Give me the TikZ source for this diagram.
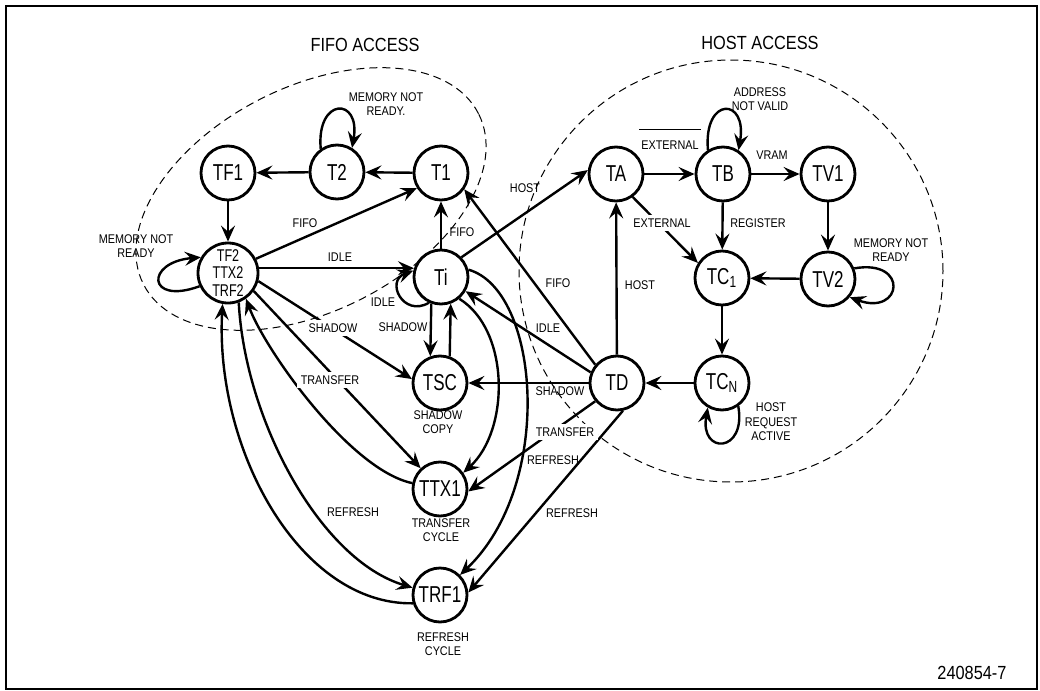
\documentclass[tikz,border=0pt]{standalone}
\usepackage{fontspec}
\setmainfont{Liberation Sans}[FakeStretch=0.86]
\newfontfamily\statefont{Liberation Sans}[FakeStretch=0.74]
\usetikzlibrary{arrows.meta}
\begin{document}
\begin{tikzpicture}[x=0.5pt,y=-0.5pt,
  st/.style={circle,draw,line width=1.4pt,minimum size=27pt,inner sep=0pt,font=\statefont\fontsize{11.5}{12}\selectfont},
  lab/.style={font=\fontsize{6.3}{7.2}\selectfont,inner sep=1pt,align=center},
  labw/.style={lab,fill=white,inner sep=2pt},
  conn/.style={line width=1.2pt,-{Stealth[length=8pt,width=7pt,inset=3pt]}},
  zone/.style={dash pattern=on 4pt off 2.5pt,line width=0.5pt},
  ttl/.style={font=\fontsize{9.5}{10}\selectfont}]
\useasboundingbox (0,0) rectangle (1040,691);
\draw[line width=0.8pt] (6,6) rectangle (1037,689);

% zones
\draw[zone,rotate around={27:(311,199)}] (311,199) ellipse [x radius=94pt, y radius=56pt];
\draw[zone] (731,271) ellipse [x radius=106pt, y radius=105.5pt];
\node[ttl] (fifot) at (365,45) {FIFO ACCESS};
\node[ttl] (hostt) at (760,43) {HOST ACCESS};

% states
\node[st] (TF1) at (228,173) {TF1};
\node[st] (T2) at (337,172) {T2};
\node[st] (T1) at (441,173) {T1};
\node[st,minimum size=30pt,font=\statefont\fontsize{8.5}{8.8}\selectfont,align=center] (TF2) at (228,273) {TF2\\TTX2\\TRF2};
\node[st] (Ti) at (441,277) {Ti};
\node[st] (TSC) at (440,383) {TSC};
\node[st] (TTX1) at (440,489) {TTX1};
\node[st] (TRF1) at (440,595) {TRF1};
\node[st] (TA) at (616,174) {TA};
\node[st] (TB) at (723,174) {TB};
\node[st] (TV1) at (828,174) {TV1};
\node[st] (TC1) at (722,278) {TC\textsubscript{1}};
\node[st] (TV2) at (828,279) {TV2};
\node[st] (TCN) at (722,383) {TC\textsubscript{N}};
\node[st] (TD) at (617,383) {TD};

% FIFO side
\draw[conn] (T1) -- (T2);
\draw[conn] (T2) -- (TF1);
\draw[conn] (TF1) -- (TF2);
\draw[conn] (T2.125) .. controls +(95:26pt) and +(80:26pt) .. (T2.58);
\draw[conn] (TF2.205) .. controls +(200:28pt) and +(185:28pt) .. (TF2.150);
\draw[conn] (TF2.27) -- (T1.212);
\draw[conn] (Ti.162 -| TF2.east) -- (Ti.162);
\draw[conn] (Ti) -- (T1);
\draw[conn] (Ti.44) -- (TA.172);
\draw[conn] (Ti.-110) -- (TSC.110);
\draw[conn] (TSC.70) -- (Ti.-70);
\draw[conn] (Ti.-115) .. controls +(-150:15pt) and +(200:15pt) .. (Ti.167);
\draw[conn] (TF2.-15) -- (TSC.172);
\draw[conn] (TF2.-35) -- (TTX1.133);
\draw[conn] (TTX1.168) .. controls (350,470) and (265,350) .. (TF2.-55);
\draw[conn] (TF2.-70) .. controls (245,420) and (320,560) .. (TRF1.165);
\draw[conn] (TRF1.197) .. controls (300,605) and (215,450) .. (TF2.-100);
\draw[conn] (Ti.-50) .. controls (510,330) and (510,430) .. (TTX1.35);
\draw[conn] (Ti.15) .. controls (540,290) and (555,485) .. (TRF1.45);

% TD
\draw[conn] (TD.140) -- (T1.-35);
\draw[conn] (TD) -- (TA);
\draw[conn] (TD.158) -- (Ti.-30);
\draw[conn] (TD) -- (TSC);
\draw[conn] (TD.220) -- (TTX1.-5);
\draw[conn] (TD.-78) -- (TRF1.5);

% HOST side
\draw[conn] (TA) -- (TB);
\draw[conn] (TB) -- (TV1);
\draw[conn] (TB) -- (TC1);
\draw[conn] (TA.-54) -- (TC1.148);
\draw[conn] (TV1) -- (TV2);
\draw[conn] (TV2) -- (TC1);
\draw[conn] (TC1) -- (TCN);
\draw[conn] (TCN) -- (TD);
\draw[conn] (TB.122) .. controls +(95:27pt) and +(80:27pt) .. (TB.57);
\draw[conn] (TV2.22) .. controls +(10:28pt) and +(-20:28pt) .. (TV2.-40);
\draw[conn] (TCN.-55) .. controls +(-80:24pt) and +(-100:24pt) .. (TCN.-120);

% labels
\node[lab] (l1) at (386,104) {MEMORY NOT\\READY.};
\node[lab] (l2) at (136,246) {MEMORY NOT\\READY};
\node[lab] (l3) at (305,223) {FIFO};
\node[lab] (l4) at (340,257) {IDLE};
\node[lab] (l5) at (462,232) {FIFO};
\node[lab] (l6) at (525,188) {HOST};
\node[lab] (l7) at (383,302) {IDLE};
\node[lab] (l8) at (403,327) {SHADOW};
\node[labw] (l9) at (333,328) {SHADOW};
\node[labw] (l10) at (330,380) {TRANSFER};
\node[lab] (l11) at (353,512) {REFRESH};
\node[lab] (l12) at (438,422) {SHADOW\\COPY};
\node[lab] (l13) at (441,530) {TRANSFER\\CYCLE};
\node[lab] (l14) at (443,644) {REFRESH\\CYCLE};
\node[lab] (l15) at (558,283) {FIFO};
\node[lab] (l16) at (548,328) {IDLE};
\node[lab] (l17) at (560,391) {SHADOW};
\node[labw] (l18) at (565,432) {TRANSFER};
\node[lab] (l19) at (553,460) {REFRESH};
\node[lab] (l20) at (572,513) {REFRESH};
\node[lab] (l21) at (640,285) {HOST};
\node[lab] (ext1) at (670,145) {EXTERNAL};
\draw[line width=0.5pt] ([yshift=4.5pt]ext1.north west) -- ([yshift=4.5pt]ext1.north east);
\node[labw] (ext2) at (662,223) {EXTERNAL};
\node[lab] (l22) at (760,99) {ADDRESS\\NOT VALID};
\node[lab] (l23) at (772,155) {VRAM};
\node[lab] (l24) at (758,223) {REGISTER};
\node[lab] (l25) at (891,250) {MEMORY NOT\\READY};
\node[lab] (l26) at (771,422) {HOST\\REQUEST\\ACTIVE};
\node[ttl] (fig) at (972,673) {240854-7};
\end{tikzpicture}
\end{document}
